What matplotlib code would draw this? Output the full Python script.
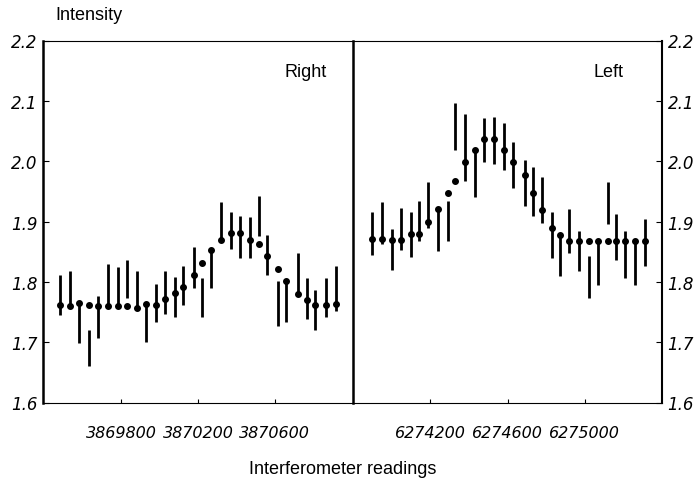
import numpy as np
import matplotlib
matplotlib.use("Agg")
import matplotlib.pyplot as plt

# left panel ("Right")
right_x = [3869480, 3869530, 3869580, 3869630, 3869680, 3869730, 3869780, 3869830,
           3869880, 3869930, 3869980, 3870030, 3870080, 3870120, 3870180, 3870220,
           3870270, 3870320, 3870370, 3870420, 3870470, 3870520, 3870560, 3870620,
           3870660, 3870720, 3870770, 3870810, 3870870, 3870920]
right_dot = [1.762, 1.760, 1.765, 1.761, 1.760, 1.760, 1.760, 1.760, 1.757, 1.763,
             1.761, 1.772, 1.781, 1.792, 1.811, 1.831, 1.852, 1.870, 1.881, 1.881,
             1.870, 1.862, 1.842, 1.822, 1.801, 1.780, 1.770, 1.762, 1.761, 1.763]
right_lo = [1.745, 1.760, 1.698, 1.660, 1.707, 1.760, 1.760, 1.773, 1.757, 1.700,
            1.733, 1.746, 1.741, 1.762, 1.790, 1.741, 1.790, 1.870, 1.854, 1.840,
            1.840, 1.876, 1.811, 1.726, 1.733, 1.780, 1.739, 1.720, 1.741, 1.752]
right_hi = [1.811, 1.818, 1.768, 1.720, 1.777, 1.830, 1.825, 1.837, 1.818, 1.763,
            1.797, 1.818, 1.808, 1.826, 1.857, 1.807, 1.852, 1.933, 1.915, 1.909,
            1.907, 1.943, 1.877, 1.801, 1.801, 1.847, 1.807, 1.786, 1.806, 1.826]

# right panel ("Left")
left_x = [6273900, 6273950, 6274000, 6274050, 6274100, 6274140, 6274190, 6274240,
          6274290, 6274330, 6274380, 6274430, 6274480, 6274530, 6274580, 6274630,
          6274690, 6274730, 6274780, 6274830, 6274870, 6274920, 6274970, 6275020,
          6275070, 6275120, 6275160, 6275210, 6275260, 6275310]
left_dot = [1.871, 1.871, 1.869, 1.869, 1.880, 1.880, 1.899, 1.921, 1.947, 1.967,
            1.999, 2.018, 2.037, 2.037, 2.018, 1.998, 1.977, 1.947, 1.919, 1.889,
            1.878, 1.867, 1.867, 1.867, 1.867, 1.867, 1.867, 1.867, 1.867, 1.867]
left_lo = [1.844, 1.862, 1.819, 1.852, 1.841, 1.868, 1.889, 1.851, 1.868, 2.019,
           1.967, 1.940, 1.999, 1.995, 1.985, 1.956, 1.925, 1.909, 1.898, 1.840,
           1.809, 1.848, 1.818, 1.773, 1.795, 1.896, 1.837, 1.807, 1.794, 1.826]
left_hi = [1.915, 1.933, 1.888, 1.922, 1.915, 1.934, 1.966, 1.924, 1.934, 2.096,
           2.078, 2.018, 2.072, 2.074, 2.064, 2.032, 2.002, 1.990, 1.974, 1.915,
           1.878, 1.921, 1.885, 1.843, 1.867, 1.966, 1.913, 1.884, 1.870, 1.904]

yticks = [1.6, 1.7, 1.8, 1.9, 2.0, 2.1, 2.2]
right_xticks = [3869800, 3870200, 3870600]
left_xticks = [6274200, 6274600, 6275000]

fig = plt.figure(figsize=(6.99, 4.85), dpi=100)
ax1 = fig.add_axes([43 / 699, 81.5 / 485, 310 / 699, 362 / 485])
ax2 = fig.add_axes([353 / 699, 81.5 / 485, 309 / 699, 362 / 485])
ax2.patch.set_visible(False)

tick_font = dict(family="DejaVu Sans", style="italic", size=11.5)

for ax, x, dot, lo, hi, xt, xl, name, nx in [
        (ax1, right_x, right_dot, right_lo, right_hi, right_xticks,
         (3869390, 3871010), "Right", 0.915),
        (ax2, left_x, left_dot, left_lo, left_hi, left_xticks,
         (6273800, 6275400), "Left", 0.875)]:
    ax.vlines(x, lo, hi, color="black", linewidth=2.0)
    ax.plot(x, dot, "o", color="black", markersize=4, linestyle="none")
    ax.set_xlim(*xl)
    ax.set_ylim(1.6, 2.2)
    ax.set_xticks(xt)
    ax.set_xticklabels([str(v) for v in xt], fontdict=tick_font)
    ax.set_yticks(yticks)
    ax.tick_params(axis="x", direction="in", length=3, pad=16)
    ax.tick_params(axis="y", direction="in", length=4, pad=4)
    ax.text(nx, 0.915, name, transform=ax.transAxes, ha="right", va="center",
            family="Liberation Sans", fontsize=13)
    for s in ["top", "bottom"]:
        ax.spines[s].set_linewidth(0.8)

ax1.set_yticklabels([f"{v:.1f}" for v in yticks], fontdict=dict(tick_font, size=12))
ax1.spines["left"].set_linewidth(1.8)
ax1.spines["right"].set_linewidth(1.8)

ax2.yaxis.tick_right()
ax2.set_yticklabels([f"{v:.1f}" for v in yticks], fontdict=dict(tick_font, size=12))
ax2.spines["left"].set_visible(False)
ax2.spines["right"].set_linewidth(1.5)

fig.text(55 / 699, 1 - 15 / 485, "Intensity", ha="left", va="center",
         family="Liberation Sans", fontsize=13)
fig.text(343 / 699, 1 - 470 / 485, "Interferometer readings", ha="center",
         va="center", family="Liberation Sans", fontsize=13)

fig.savefig("out.png", dpi=100)
